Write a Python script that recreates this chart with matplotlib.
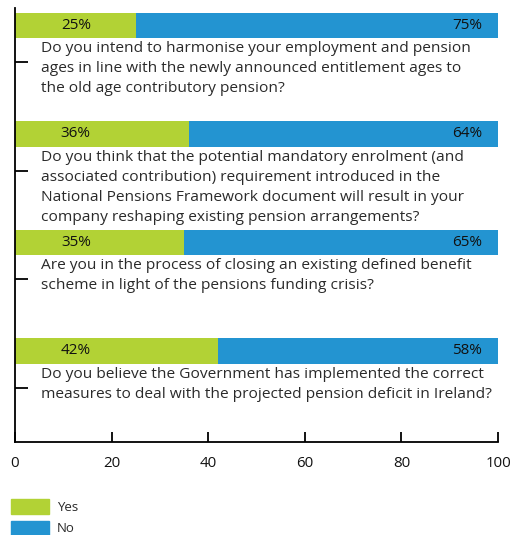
import matplotlib
matplotlib.use("Agg")
import matplotlib.pyplot as plt
from matplotlib.patches import Patch

plt.rcParams['font.family'] = ['Open Sans', 'DejaVu Sans']

questions = [
    "Do you intend to harmonise your employment and pension\nages in line with the newly announced entitlement ages to\nthe old age contributory pension?",
    "Do you think that the potential mandatory enrolment (and\nassociated contribution) requirement introduced in the\nNational Pensions Framework document will result in your\ncompany reshaping existing pension arrangements?",
    "Are you in the process of closing an existing defined benefit\nscheme in light of the pensions funding crisis?",
    "Do you believe the Government has implemented the correct\nmeasures to deal with the projected pension deficit in Ireland?",
]
yes_pct = [25, 36, 35, 42]
no_pct = [75, 64, 65, 58]
x_ticks = [0, 20, 40, 60, 80, 100]

GREEN = "#b2d235"
BLUE = "#2394d1"
TEXT = "#2a2a2a"

fig = plt.figure(figsize=(5.12, 5.35), dpi=100)
ax = fig.add_axes([15 / 512, 1 - 442 / 535, 483 / 512, 434 / 535])

bar_h = 0.235
bar_off = -0.34
ys = [i + bar_off for i in range(len(questions))]

ax.barh(ys, yes_pct, height=bar_h, color=GREEN, label="Yes")
ax.barh(ys, no_pct, left=yes_pct, height=bar_h, color=BLUE, label="No")

fs = 11.15
for i, (q, y, n, yb) in enumerate(zip(questions, yes_pct, no_pct, ys)):
    ax.text(12.6, yb, f"{y}%", ha="center", va="center", fontsize=11, color="#111111")
    ax.text(96.7, yb, f"{n}%", ha="right", va="center", fontsize=11, color="#111111")
    ax.text(5.4, yb + bar_h / 2 + 0.03, q, ha="left", va="top", fontsize=fs,
            color=TEXT, linespacing=1.46)

ax.set_xlim(0, 100)
ax.set_ylim(len(questions) - 0.5, -0.5)
ax.set_xticks(x_ticks)
ax.set_yticks(range(len(questions)))
ax.set_yticklabels([])
ax.tick_params(axis="x", direction="in", length=7.5, width=1.3, pad=10,
               labelsize=10.8, labelcolor="#111111")
ax.tick_params(axis="y", direction="in", length=9.5, width=1.3)
for s in ("top", "right"):
    ax.spines[s].set_visible(False)
for s in ("left", "bottom"):
    ax.spines[s].set_linewidth(1.3)

handles = [Patch(color=GREEN, label="Yes"), Patch(color=BLUE, label="No")]
fig.legend(handles=handles, loc="upper left", bbox_to_anchor=(6 / 512, 1 - 494 / 535),
           frameon=False, fontsize=9.5, handlelength=2.85, handleheight=1.35,
           labelspacing=0.5, handletextpad=0.6, labelcolor=TEXT, borderaxespad=0)

fig.savefig("out.png", dpi=100)
